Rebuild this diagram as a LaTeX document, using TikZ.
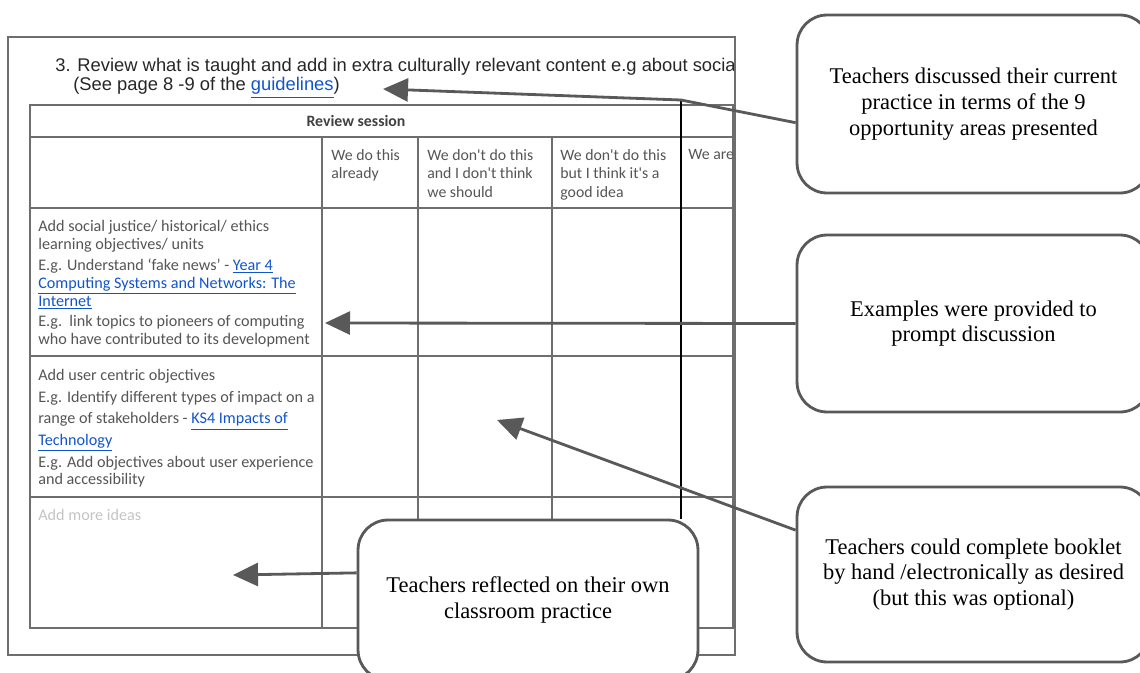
\documentclass[tikz,border=0pt]{standalone}
\usepackage{fontspec}
\setmainfont{Liberation Serif}
\newfontfamily\headfont{Liberation Sans}
\newfontfamily\cellfont{Carlito}
\usetikzlibrary{arrows.meta}
%
\definecolor{framegray}{HTML}{6E6E6E}
\definecolor{boxgray}{HTML}{595959}
\definecolor{celltext}{HTML}{555555}
\definecolor{linkblue}{HTML}{1155CC}
\definecolor{pale}{HTML}{C4C4C4}
\newcommand{\lnk}[1]{\textcolor{linkblue}{\underline{#1}}}
%
\tikzset{
  frame/.style   = {draw=framegray, line width=1.1pt},
  rule/.style    = {draw=framegray, line width=0.7pt},
  heading/.style = {anchor=west, inner sep=0pt, text=black!85,
                    font=\headfont\fontsize{10.45}{12}\selectfont},
  hdr/.style     = {anchor=north west, align=left, inner sep=0pt, text=celltext,
                    font=\cellfont\fontsize{9}{10.6}\selectfont},
  cell/.style    = {anchor=north west, align=left, inner sep=0pt, text=celltext,
                    font=\cellfont\fontsize{9.2}{10.2}\selectfont},
  callout/.style = {draw=boxgray, line width=1.6pt, rounded corners=0.6cm,
                    fill=white, align=center, inner sep=0pt,
                    font=\fontsize{12.8}{14.6}\selectfont},
  pointer/.style = {draw=boxgray, line width=1.6pt,
                    -{Triangle[length=0.5cm,width=0.46cm]}},
}
%
\begin{document}
\begin{tikzpicture}[x=0.02cm, y=-0.02cm]%{{{
\useasboundingbox (0,0) rectangle (1140,673);
\clip (0,0) rectangle (1140,673);
%
% Page frame
\draw [frame] (8,37) rectangle (735,655);
%
% Table grid
\draw [rule] (30,105) rectangle (733,628);
\foreach \y in {137,208,356,497} \draw [rule] (30,\y) -- (733,\y);
\foreach \x in {322,418,552} \draw [rule] (\x,137) -- (\x,628);
%
% Heading and cut-off column (clipped at the page edge)
\begin{scope}
\clip (8,37) rectangle (733,655);
\node [heading] (title) at (55,67)
      {3. Review what is taught and add in extra culturally relevant content e.g about social justice};
\node [heading] (see) at (73,88) {(See page 8 -9 of the \lnk{guidelines})};
\node [hdr] (hdare) at (688,149) {We are};
\end{scope}
%
% Table texts
\node [font=\cellfont\bfseries\fontsize{9}{10}\selectfont, text=black!75]
      (session) at (356,121) {Review session};
\node [hdr] (hddo)   at (331,149) {We do this\\already};
\node [hdr] (hdnot)  at (427,149) {We don't do this\\and I don't think\\we should};
\node [hdr] (hdgood) at (560,149) {We don't do this\\but I think it's a\\good idea};
%
\node [cell] (rowjust) at (38,220)
      {Add social justice/ historical/ ethics\\
       learning objectives/ units\\[1.6pt]
       E.g. Understand ‘fake news’ - \lnk{Year 4}\\
       \lnk{Computing Systems and Networks: The}\\
       \lnk{Internet}\\[1.6pt]
       E.g.\ \ link topics to pioneers of computing\\
       who have contributed to its development};
\node [cell, font=\cellfont\fontsize{9.2}{12.3}\selectfont] (rowuser) at (38,369)
      {Add user centric objectives\\
       E.g. Identify different types of impact on a\\
       range of stakeholders - \lnk{KS4 Impacts of}\\
       \lnk{Technology}\\
       E.g. Add objectives about user experience\\[-2.3pt]
       and accessibility};
\node [cell, text=pale] (rowmore) at (38,509) {Add more ideas};
%
% Callouts
\node [callout, minimum width=7.06cm, minimum height=3.56cm] (discuss) at (973.5,104)
      {Teachers discussed their current\\practice in terms of the 9\\opportunity areas presented};
\node [callout, minimum width=7.06cm, minimum height=3.54cm] (examples) at (973.5,323.5)
      {Examples were provided to\\prompt discussion};
\node [callout, minimum width=7.06cm, minimum height=3.5cm] (booklet) at (973.5,574.5)
      {Teachers could complete booklet\\by hand /electronically as desired\\(but this was optional)};
%
% Pointers
\coordinate (guide) at (383,89);
\coordinate (bend)  at (681,100);
\coordinate (row)   at (325,323);
\coordinate (cell)  at (497,420);
\coordinate (blank) at (233,575);
%
\node [callout, minimum width=6.8cm, minimum height=3.2cm] (reflect) at (528,600)
      {Teachers reflected on their own\\classroom practice};
%
\draw [black, line width=1.3pt] (bend) -- (bend |- reflect.north);
\draw [pointer] (discuss.186) -- (bend) -- (guide);
\draw [pointer] (examples.west) -- (row);
\draw [pointer] (booklet.166) -- (cell);
\draw [pointer] (reflect.171) -- (blank);
%
\end{tikzpicture}
\end{document}
